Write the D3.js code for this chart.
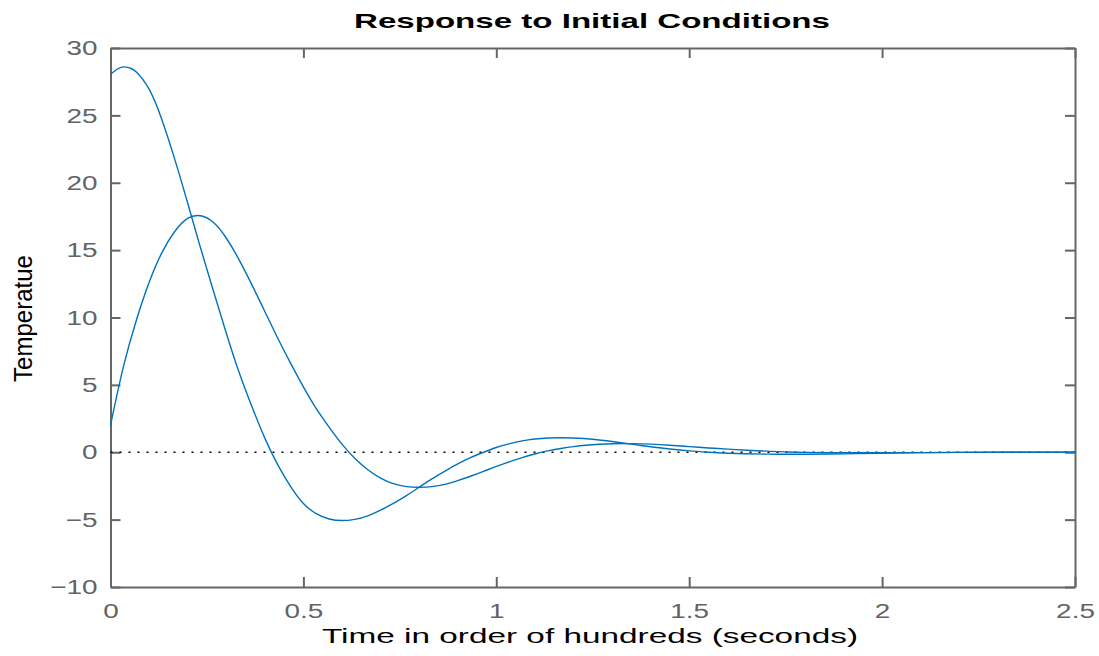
<!DOCTYPE html>
<meta charset="utf-8">
<style>
    body { margin: 0; background: #fff; }
    svg { display: block; font-family: "Liberation Sans", Arial, sans-serif; }
</style>
<svg width="1099" height="656"></svg>
<script src="https://d3js.org/d3.v7.min.js"></script>
<script>
    // response curves (time, temperature)
    const timeA = [0, 0.017, 0.033, 0.05, 0.067, 0.1, 0.133, 0.167, 0.2, 0.233, 0.267, 0.3, 0.333, 0.367, 0.4, 0.433, 0.467, 0.5, 0.533, 0.567, 0.6, 0.633, 0.667, 0.7, 0.733, 0.767, 0.8, 0.833, 0.867, 0.9, 0.933, 0.967, 1.0, 1.033, 1.067, 1.1, 1.133, 1.167, 1.2, 1.25, 1.3, 1.35, 1.4, 1.45, 1.5, 1.55, 1.6, 1.7, 1.8, 1.9, 2.0, 2.1, 2.2, 2.35, 2.5];
    const tempA = [28.05, 28.42, 28.6, 28.52, 28.22, 26.95, 24.7, 21.7, 18.5, 15.2, 11.95, 8.85, 5.95, 3.35, 1.05, -0.9, -2.55, -3.8, -4.55, -4.95, -5.07, -4.98, -4.72, -4.3, -3.8, -3.22, -2.6, -1.98, -1.4, -0.87, -0.4, 0.0, 0.35, 0.62, 0.84, 0.98, 1.06, 1.08, 1.06, 0.97, 0.8, 0.6, 0.41, 0.24, 0.1, 0.0, -0.07, -0.14, -0.15, -0.12, -0.07, -0.03, -0.01, 0, 0];
    const timeB = [0, 0.033, 0.067, 0.1, 0.133, 0.167, 0.2, 0.233, 0.267, 0.3, 0.333, 0.367, 0.4, 0.433, 0.467, 0.5, 0.533, 0.567, 0.6, 0.633, 0.667, 0.7, 0.733, 0.767, 0.8, 0.833, 0.867, 0.9, 0.933, 0.967, 1.0, 1.033, 1.067, 1.1, 1.133, 1.167, 1.2, 1.233, 1.267, 1.3, 1.35, 1.4, 1.45, 1.5, 1.55, 1.6, 1.65, 1.7, 1.75, 1.8, 1.9, 2.0, 2.1, 2.2, 2.35, 2.5];
    const tempB = [2.0, 6.3, 9.8, 12.6, 14.8, 16.4, 17.35, 17.55, 17.05, 15.9, 14.3, 12.4, 10.45, 8.5, 6.6, 4.85, 3.25, 1.85, 0.6, -0.45, -1.3, -1.92, -2.33, -2.55, -2.6, -2.55, -2.38, -2.1, -1.78, -1.42, -1.05, -0.72, -0.4, -0.13, 0.1, 0.28, 0.42, 0.52, 0.59, 0.63, 0.64, 0.6, 0.52, 0.42, 0.32, 0.23, 0.15, 0.08, 0.03, -0.01, -0.04, -0.04, -0.03, -0.01, 0, 0];

    const xTicks = [0, 0.5, 1, 1.5, 2, 2.5];
    const yTicks = [-10, -5, 0, 5, 10, 15, 20, 25, 30];

    var svg = d3.select("svg"),
        plotLeft = 110.5, plotRight = 1075, plotTop = 48, plotBottom = 587;

    var x = d3.scaleLinear().domain([0, 2.5]).range([plotLeft, plotRight]);
    var y = d3.scaleLinear().domain([-10, 30]).range([plotBottom, plotTop]);

    var axisColor = "#666";
    var stretch = 1.33;

    function styleAxis(g) {
        g.select(".domain").attr("stroke", axisColor).attr("stroke-width", 2);
        g.selectAll(".tick line").attr("stroke", axisColor).attr("stroke-width", 2);
        g.selectAll(".tick text").attr("fill", "#636363").attr("font-size", 21);
    }

    svg.append("g")
        .attr("transform", "translate(0," + plotBottom + ")")
        .call(d3.axisBottom(x).tickValues(xTicks).tickSize(-10).tickSizeOuter(0).tickPadding(16).tickFormat(d3.format("")))
        .call(styleAxis)
        .call(g => g.selectAll(".tick text").attr("transform", "scale(" + stretch + ",1)"));

    svg.append("g")
        .attr("transform", "translate(0," + plotTop + ")")
        .call(d3.axisTop(x).tickValues(xTicks).tickSize(-10).tickSizeOuter(0).tickFormat(""))
        .call(styleAxis);

    svg.append("g")
        .attr("transform", "translate(" + plotLeft + ",0)")
        .call(d3.axisLeft(y).tickValues(yTicks).tickSize(-10).tickSizeOuter(0).tickPadding(13 / stretch))
        .call(styleAxis)
        .call(g => g.selectAll(".tick text").attr("transform", "scale(" + stretch + ",1)"));

    svg.append("g")
        .attr("transform", "translate(" + plotRight + ",0)")
        .call(d3.axisRight(y).tickValues(yTicks).tickSize(-10).tickSizeOuter(0).tickFormat(""))
        .call(styleAxis);

    // dotted zero line
    svg.append("line")
        .attr("x1", x(0)).attr("x2", x(2.5))
        .attr("y1", y(0)).attr("y2", y(0))
        .attr("stroke", "#000")
        .attr("stroke-width", 1.4)
        .attr("stroke-dasharray", "2,7");

    var line = d3.line()
        .x(d => x(d[0]))
        .y(d => y(d[1]))
        .curve(d3.curveNatural);

    [[timeA, tempA], [timeB, tempB]].forEach(function (s) {
        svg.append("path")
            .datum(s[0].map((t, i) => [t, s[1][i]]))
            .attr("fill", "none")
            .attr("stroke", "#0072BD")
            .attr("stroke-width", 1.4)
            .attr("d", line);
    });

    svg.append("text")
        .attr("x", 592).attr("y", 28)
        .attr("text-anchor", "middle")
        .attr("font-size", 21).attr("font-weight", "bold")
        .attr("textLength", 476).attr("lengthAdjust", "spacingAndGlyphs")
        .text("Response to Initial Conditions");

    svg.append("text")
        .attr("x", 590).attr("y", 643)
        .attr("text-anchor", "middle")
        .attr("font-size", 21)
        .attr("textLength", 536).attr("lengthAdjust", "spacingAndGlyphs")
        .text("Time in order of hundreds (seconds)");

    svg.append("text")
        .attr("transform", "translate(32,318.5) rotate(-90)")
        .attr("text-anchor", "middle")
        .attr("font-size", 26)
        .attr("textLength", 127).attr("lengthAdjust", "spacingAndGlyphs")
        .text("Temperatue");
</script>
